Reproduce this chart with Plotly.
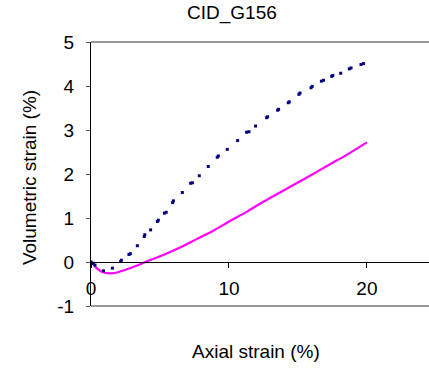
import plotly.graph_objects as go

# Axial strain (%) vs volumetric strain (%) for test CID_G156
blue_x = [0.0, 0.17, 0.29, 0.9, 1.55, 2.15, 2.2, 2.75, 2.85, 3.36, 3.86, 3.9, 4.32, 4.81, 4.88,
          5.32, 5.45, 5.92, 5.97, 6.62, 7.22, 7.35, 7.85, 8.5, 9.15, 9.23, 9.88, 10.63,
          11.28, 11.45, 11.93, 12.73, 12.8, 13.53, 13.6, 14.3, 14.37, 15.07, 15.15,
          15.95, 16.03, 16.7, 16.85, 17.45, 17.53, 18.1, 18.72, 18.85, 19.57, 19.75]
blue_y = [0.0, -0.03, -0.07, -0.2, -0.14, 0.01, 0.04, 0.17, 0.19, 0.37, 0.58, 0.62, 0.73, 0.92, 0.95,
          1.11, 1.13, 1.35, 1.39, 1.58, 1.79, 1.8, 1.96, 2.17, 2.38, 2.41, 2.56, 2.76,
          2.95, 2.96, 3.09, 3.28, 3.3, 3.45, 3.47, 3.62, 3.64, 3.81, 3.84,
          3.96, 3.99, 4.11, 4.13, 4.22, 4.24, 4.29, 4.39, 4.41, 4.49, 4.51]

pink_x = [0.0, 0.1, 0.41, 0.77, 1.38, 1.98, 2.83, 4.03, 5.24, 6.45, 7.66, 8.86,
          10.07, 11.28, 12.49, 13.7, 14.9, 16.1, 17.2, 18.5, 20.0]
pink_y = [0.0, -0.03, -0.14, -0.22, -0.26, -0.23, -0.14, 0.01, 0.16, 0.33, 0.52, 0.71,
          0.93, 1.14, 1.37, 1.58, 1.79, 2.0, 2.2, 2.43, 2.72]

x_ticks = [0, 10, 20]
y_ticks = [-1, 0, 1, 2, 3, 4, 5]

FONT = "Liberation Sans, Arial, sans-serif"

fig = go.Figure()
fig.add_trace(go.Scatter(x=pink_x, y=pink_y, mode="lines",
                         line=dict(color="#ff00ff", width=2.2, shape="spline"),
                         showlegend=False))
fig.add_trace(go.Scatter(x=blue_x, y=blue_y, mode="markers",
                         marker=dict(color="#000080", size=3, symbol="square"),
                         showlegend=False))

fig.update_layout(
    width=429, height=371,
    margin=dict(l=91, r=0, t=42, b=65),
    paper_bgcolor="white", plot_bgcolor="white",
    font=dict(family=FONT, size=19, color="black"),
    xaxis=dict(range=[0, 24.5], tickvals=x_ticks, ticktext=[str(v) for v in x_ticks],
               anchor="free", position=1/6, showline=True, linecolor="black", linewidth=1,
               ticks="outside", ticklen=5, tickcolor="black", showgrid=False, zeroline=False,
               tickfont=dict(size=19), ticklabelstandoff=4),
    yaxis=dict(range=[-1, 5], tickvals=y_ticks, ticktext=[str(v) for v in y_ticks],
               showline=True, linecolor="black", linewidth=1,
               ticks="outside", ticklen=4, tickcolor="#555555", showgrid=False, zeroline=False,
               tickfont=dict(size=19), ticklabelstandoff=8),
    shapes=[
        dict(type="line", xref="paper", yref="paper", x0=0, x1=1, y0=1, y1=1,
             line=dict(color="#999999", width=2)),
        dict(type="line", xref="paper", yref="paper", x0=0, x1=1, y0=0, y1=0,
             line=dict(color="#999999", width=2)),
    ],
    annotations=[
        dict(text="CID_G156", xref="paper", yref="paper", x=0.417, y=1.11,
             showarrow=False, xanchor="center", yanchor="middle", font=dict(size=19)),
        dict(text="Axial strain (%)", xref="paper", yref="paper", x=0.488, y=-0.174,
             showarrow=False, xanchor="center", yanchor="middle", font=dict(size=19)),
        dict(text="Volumetric strain (%)", xref="paper", yref="paper", x=-0.18, y=0.485,
             showarrow=False, xanchor="center", yanchor="middle", textangle=-90,
             font=dict(size=19)),
    ],
)

fig.write_html("out.html")
